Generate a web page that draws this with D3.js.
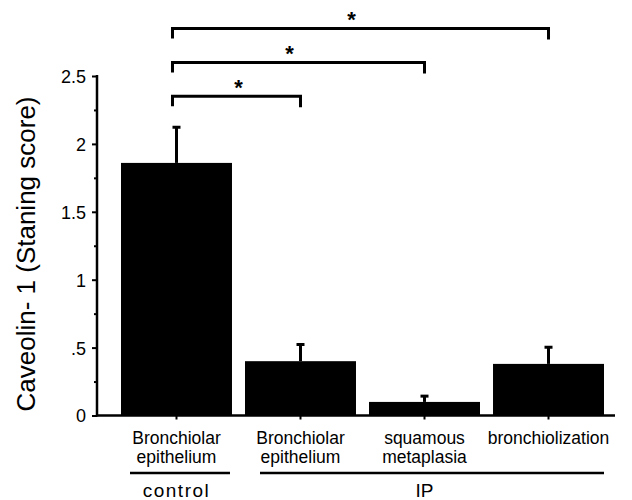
<!DOCTYPE html>
<html>
<head>
<meta charset="utf-8">
<script src="https://cdn.jsdelivr.net/npm/d3@7"></script>
<style>
  html, body { margin: 0; padding: 0; background: #fff; }
  svg { display: block; }
  text { font-family: "Liberation Sans", Arial, Helvetica, sans-serif; fill: #000; }
</style>
</head>
<body>
<svg id="chart" width="632" height="500"></svg>
<script>
// ---- data ----
const categories = ["Bronchiolar\nepithelium", "Bronchiolar\nepithelium", "squamous\nmetaplasia", "bronchiolization"];
const means = [1.86, 0.40, 0.10, 0.38];
const errors = [0.27, 0.13, 0.05, 0.13];
const yTicks = [0, 0.5, 1, 1.5, 2, 2.5];
const yTickLabels = ["0", ".5", "1", "1.5", "2", "2.5"];
const yMinorTicks = [0.25, 0.75, 1.25, 1.75, 2.25];
const groupLabels = ["control", "IP"];
const groupStart = [0, 1];
const groupEnd = [0, 3];
const compFrom = [0, 0, 0];
const compTo = [1, 2, 3];
const compLevel = [2.35, 2.6, 2.85];
const compMark = ["*", "*", "*"];
const yTitle = "Caveolin- 1 (Staning score)";

// ---- layout ----
const svg = d3.select("#chart");
const axisX = 97, baseY = 415.5, topY = 76;
const x = d3.scaleBand().domain(d3.range(categories.length)).range([121, 604]).paddingInner(0.105).paddingOuter(0);
const y = d3.scaleLinear().domain([0, 2.5]).range([baseY, topY]);
const cx = i => x(i) + x.bandwidth() / 2;

// bars
svg.append("g").selectAll("rect").data(means).join("rect")
  .attr("x", (d, i) => x(i)).attr("width", x.bandwidth())
  .attr("y", d => y(d)).attr("height", d => y(0) - y(d))
  .attr("fill", "#000");

// error bars
const eg = svg.append("g").attr("stroke", "#000");
eg.selectAll("line.v").data(means).join("line").attr("class", "v")
  .attr("x1", (d, i) => cx(i)).attr("x2", (d, i) => cx(i))
  .attr("y1", d => y(d)).attr("y2", (d, i) => y(d + errors[i]))
  .attr("stroke-width", 3);
eg.selectAll("line.c").data(means).join("line").attr("class", "c")
  .attr("x1", (d, i) => cx(i) - 4).attr("x2", (d, i) => cx(i) + 4)
  .attr("y1", (d, i) => y(d + errors[i]) + 1).attr("y2", (d, i) => y(d + errors[i]) + 1)
  .attr("stroke-width", 3);

// y axis
const yAxis = d3.axisLeft(y).tickValues(yTicks).tickSize(5).tickPadding(6)
  .tickFormat((d, i) => yTickLabels[i]);
const ya = svg.append("g").attr("transform", `translate(${axisX},0)`).call(yAxis);
ya.select(".domain").remove();
ya.selectAll(".tick line").attr("stroke", "#000").attr("stroke-width", 2);
ya.selectAll(".tick text").style("font-size", "18px").attr("dy", "0.36em");
const yMinor = d3.axisLeft(y).tickValues(yMinorTicks).tickSize(3).tickFormat("");
const ym = svg.append("g").attr("transform", `translate(${axisX},0)`).call(yMinor);
ym.select(".domain").remove();
ym.selectAll(".tick line").attr("stroke", "#000").attr("stroke-width", 2);
svg.append("line").attr("x1", axisX).attr("x2", axisX).attr("y1", y(2.5) - 1).attr("y2", baseY + 1)
  .attr("stroke", "#000").attr("stroke-width", 2.5);

// x axis
const xAxis = d3.axisBottom(x).tickSize(4).tickFormat("");
const xa = svg.append("g").attr("transform", `translate(0,${baseY})`).call(xAxis);
xa.select(".domain").remove();
xa.selectAll(".tick line").attr("stroke", "#000").attr("stroke-width", 2);
svg.append("line").attr("x1", axisX - 1).attr("x2", 615).attr("y1", baseY).attr("y2", baseY)
  .attr("stroke", "#000").attr("stroke-width", 2.5);

// category labels
const cl = svg.append("g");
categories.forEach((c, i) => {
  const t = cl.append("text").attr("text-anchor", "middle").style("font-size", "17.5px")
    .attr("transform", `translate(${cx(i)},444)`);
  c.split("\n").forEach((ln, k) => {
    t.append("tspan").attr("x", 0).attr("y", k * 18.5).text(ln);
  });
});

// group underlines and labels
groupLabels.forEach((g, k) => {
  const x1 = x(groupStart[k]) + (k === 0 ? 9 : 15);
  const x2 = x(groupEnd[k]) + x.bandwidth() - (k === 0 ? 2 : 0);
  svg.append("line").attr("x1", x1).attr("x2", x2).attr("y1", 473).attr("y2", 473)
    .attr("stroke", "#000").attr("stroke-width", 2.5);
  const mid = (cx(groupStart[k]) + cx(groupEnd[k])) / 2;
  svg.append("text").attr("x", mid).attr("y", 497).attr("text-anchor", "middle")
    .style("font-size", "19px").style("letter-spacing", k === 0 ? "1.5px" : "0px").text(g);
});

// significance brackets
compFrom.forEach((f, k) => {
  const x1 = cx(f) - 4, x2 = cx(compTo[k]), yy = y(compLevel[k]);
  svg.append("path").attr("d", `M${x1},${yy + 10}V${yy}H${x2}V${yy + 11}`)
    .attr("fill", "none").attr("stroke", "#000").attr("stroke-width", 3);
  svg.append("text").attr("x", (x1 + x2) / 2 - (k === 0 ? -2 : 9)).attr("y", yy - 1).attr("text-anchor", "middle")
    .style("font-size", "22px").style("font-weight", "bold").text(compMark[k]);
});

// y title
svg.append("text").attr("transform", `translate(35,254) rotate(-90)`)
  .attr("text-anchor", "middle").style("font-size", "26px").text(yTitle);
</script>
</body>
</html>
